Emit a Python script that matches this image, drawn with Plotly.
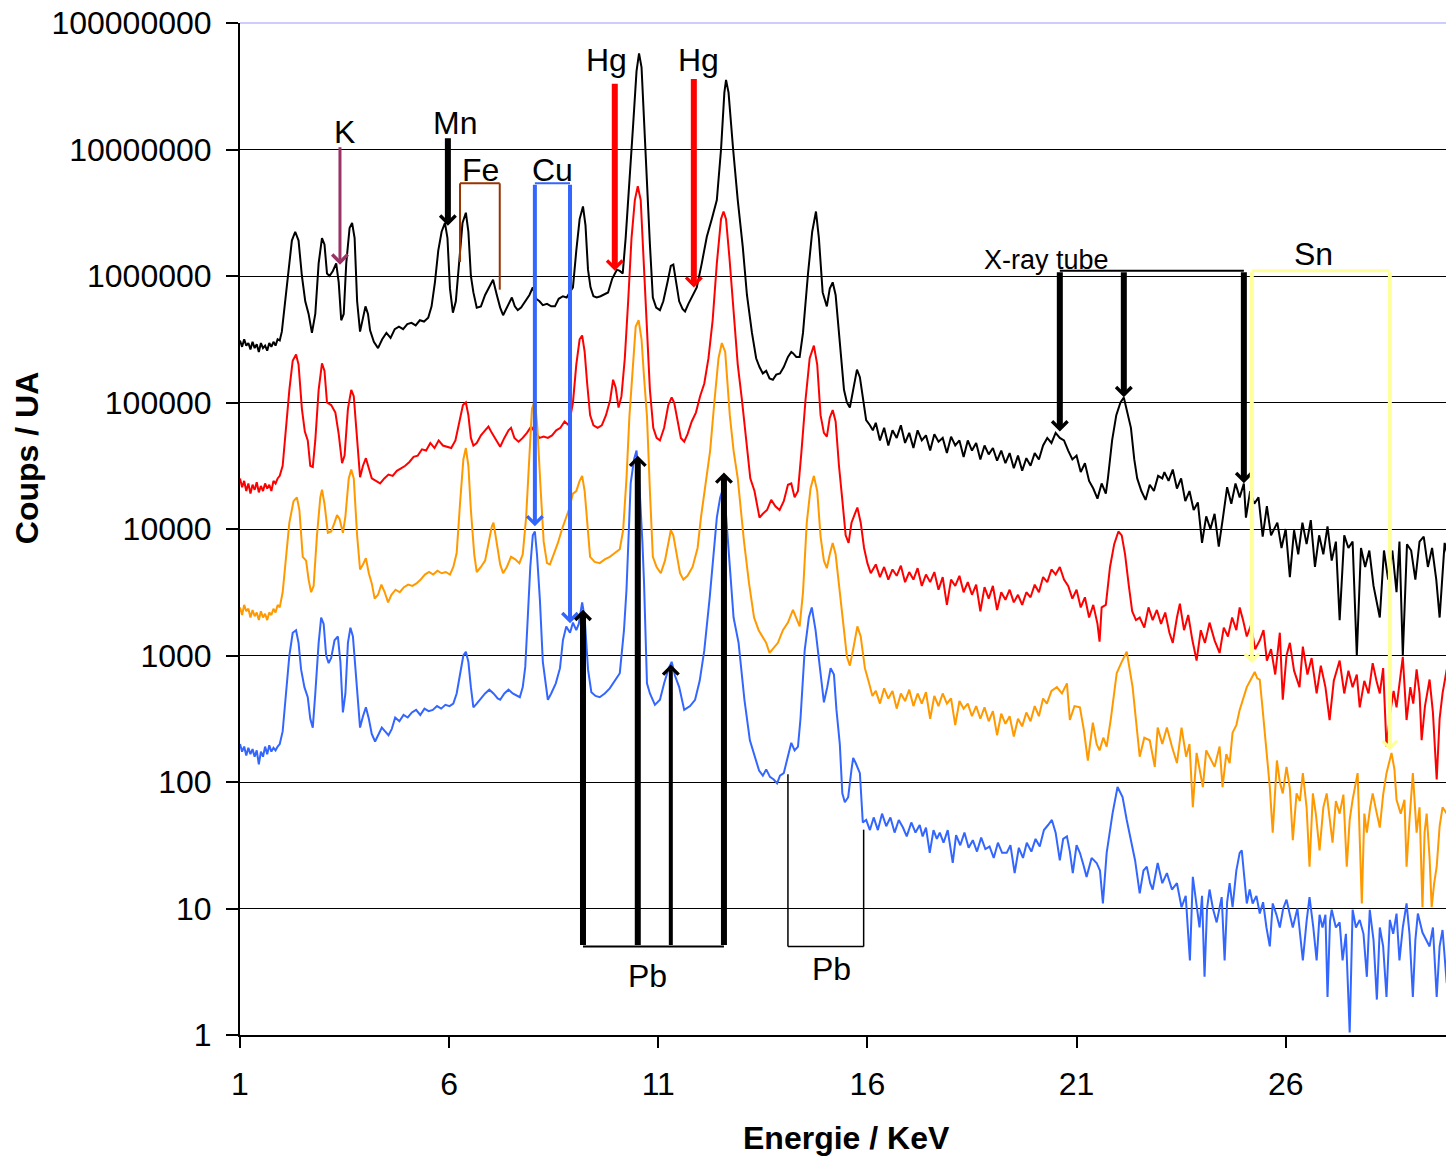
import numpy as np
import plotly.graph_objects as go

# spectres XRF : (energie keV, log10 des coups)
noir = [(1.00,5.49),(1.05,5.44),(1.10,5.50),(1.15,5.45),(1.20,5.47),(1.25,5.42),(1.30,5.48),(1.35,5.43),(1.40,5.46),(1.45,5.40),
        (1.50,5.47),(1.55,5.43),(1.60,5.45),(1.65,5.41),(1.70,5.47),(1.75,5.44),(1.80,5.48),(1.85,5.45),(1.90,5.50),(1.95,5.49),
        (2.00,5.56),(2.08,5.80),(2.16,6.05),(2.24,6.28),(2.32,6.35),(2.40,6.28),(2.48,6.00),(2.56,5.80),(2.64,5.70),(2.72,5.55),
        (2.80,5.70),(2.88,6.10),(2.96,6.30),(3.02,6.25),(3.08,6.02),(3.14,6.00),(3.22,6.04),(3.30,6.10),(3.36,5.95),(3.42,5.65),
        (3.48,5.70),(3.54,6.10),(3.62,6.38),(3.68,6.42),(3.74,6.30),(3.80,5.80),(3.87,5.56),(3.94,5.68),(4.00,5.76),(4.06,5.70),
        (4.11,5.57),(4.20,5.48),(4.30,5.43),(4.40,5.50),(4.50,5.55),(4.60,5.51),(4.70,5.58),(4.80,5.60),(4.90,5.58),(5.00,5.62),
        (5.10,5.63),(5.20,5.61),(5.30,5.65),(5.40,5.64),(5.50,5.67),(5.58,5.76),(5.66,5.95),(5.74,6.20),(5.82,6.35),(5.90,6.42),
        (5.96,6.30),(6.02,5.90),(6.09,5.71),(6.16,5.80),(6.24,6.10),(6.32,6.42),(6.40,6.50),(6.46,6.35),(6.52,6.00),(6.58,5.87),
        (6.66,5.75),(6.76,5.76),(6.86,5.85),(6.96,5.92),(7.05,5.97),(7.14,5.85),(7.22,5.75),(7.29,5.69),(7.38,5.75),(7.50,5.83),
        (7.57,5.76),(7.64,5.73),(7.72,5.75),(7.82,5.80),(7.92,5.85),(8.00,5.91),(8.08,5.82),(8.16,5.80),(8.24,5.77),(8.34,5.78),
        (8.44,5.76),(8.53,5.76),(8.62,5.82),(8.72,5.84),(8.81,5.83),(8.90,5.88),(8.96,5.91),(9.04,6.20),(9.12,6.45),(9.20,6.55),
        (9.26,6.40),(9.32,6.05),(9.38,5.91),(9.45,5.84),(9.53,5.83),(9.62,5.84),(9.72,5.86),(9.80,5.87),(9.90,5.98),(10.01,6.05),
        (10.08,6.04),(10.15,6.02),(10.22,6.30),(10.32,6.76),(10.40,7.20),(10.48,7.62),(10.54,7.76),(10.60,7.65),(10.66,7.20),(10.73,6.76),
        (10.80,6.25),(10.87,5.83),(10.95,5.75),(11.04,5.73),(11.12,5.80),(11.22,5.95),(11.30,6.08),(11.36,6.09),(11.42,5.98),(11.50,5.80),
        (11.58,5.74),(11.64,5.72),(11.72,5.78),(11.82,5.85),(11.92,5.91),(12.04,6.10),(12.16,6.31),(12.28,6.45),(12.40,6.60),(12.50,7.00),
        (12.58,7.45),(12.62,7.55),(12.68,7.45),(12.79,7.00),(12.90,6.60),(13.02,6.23),(13.12,5.85),(13.24,5.55),(13.34,5.35),(13.42,5.28),
        (13.50,5.23),(13.58,5.25),(13.66,5.19),(13.74,5.18),(13.82,5.22),(13.91,5.23),(14.00,5.28),(14.10,5.36),(14.18,5.40),(14.22,5.39),
        (14.30,5.36),(14.38,5.36),(14.46,5.55),(14.58,6.02),(14.68,6.35),(14.77,6.51),(14.84,6.30),(14.93,5.87),(15.03,5.76),(15.10,5.90),
        (15.17,5.95),(15.24,5.85),(15.34,5.49),(15.44,5.10),(15.51,5.00),(15.58,4.96),(15.66,5.10),(15.75,5.26),(15.82,5.20),(15.89,5.04),
        (15.97,4.86),(16.06,4.82),(16.13,4.78),
        (16.2,4.84),(16.3,4.70),(16.4,4.80),(16.5,4.66),(16.6,4.78),(16.7,4.72),(16.8,4.82),(16.9,4.68),(17.0,4.76),(17.1,4.64),
        (17.2,4.78),(17.3,4.70),(17.4,4.74),(17.5,4.62),(17.6,4.75),(17.7,4.69),(17.8,4.72),(17.9,4.60),(18.0,4.73),(18.1,4.66),
        (18.2,4.70),(18.3,4.57),(18.4,4.70),(18.5,4.62),(18.6,4.68),(18.7,4.55),(18.8,4.66),(18.9,4.59),(19.0,4.64),(19.1,4.54),
        (19.2,4.62),(19.3,4.52),(19.4,4.60),(19.5,4.48),(19.6,4.58),(19.7,4.46),(19.8,4.56),(19.9,4.50),(20.0,4.60),(20.1,4.55),
        (20.2,4.66),(20.3,4.72),(20.4,4.68),(20.5,4.76),(20.6,4.72),(20.7,4.70),(20.8,4.62),(20.9,4.55),(21.0,4.58),(21.1,4.45),
        (21.2,4.52),(21.3,4.38),(21.4,4.32),(21.5,4.24),(21.6,4.36),(21.7,4.28),(21.75,4.40),(21.85,4.70),(21.95,4.90),(22.05,5.00),
        (22.13,5.04),(22.2,4.95),(22.3,4.80),(22.38,4.55),(22.45,4.40),(22.55,4.30),(22.65,4.23),(22.75,4.35),(22.85,4.30),(22.95,4.42),
        (23.05,4.40),(23.1,4.45),(23.2,4.38),(23.3,4.47),(23.4,4.32),(23.5,4.40),(23.6,4.22),(23.7,4.30),(23.8,4.15),(23.9,4.21),
        (24.0,3.89),(24.1,4.10),(24.2,4.00),(24.3,4.12),(24.4,3.86),(24.5,4.09),(24.6,4.33),(24.7,4.20),(24.8,4.36),(24.9,4.25),
        (25.0,4.36),(25.05,4.09),(25.15,4.30),(25.25,4.20),(25.35,4.25),(25.45,3.94),(25.55,4.18),(25.65,3.95),(25.8,4.05),(25.9,3.85),
        (26.0,4.00),(26.1,3.62),(26.2,3.99),(26.3,3.80),(26.4,4.05),(26.5,3.88),(26.6,4.07),(26.7,3.70),(26.8,3.95),(26.9,3.80),
        (27.0,4.02),(27.1,3.75),(27.2,3.90),(27.29,3.28),(27.4,3.95),(27.5,3.85),(27.6,3.90),(27.7,3.00),(27.8,3.85),(27.9,3.70),
        (28.0,3.83),(28.1,3.55),(28.25,3.30),(28.35,3.83),(28.45,3.60),(28.55,3.83),(28.65,3.50),(28.72,3.90),(28.80,3.00),(28.9,3.88),
        (29.0,3.83),(29.1,3.60),(29.2,3.90),(29.3,3.94),(29.4,3.70),(29.5,3.85),(29.6,3.60),(29.68,3.30),(29.8,3.89),(29.9,3.75),(30.0,3.60)]

rouge = [(1.00,4.40),(1.05,4.33),(1.10,4.38),(1.15,4.30),(1.20,4.36),(1.25,4.28),(1.30,4.35),(1.35,4.31),(1.40,4.37),(1.45,4.29),
         (1.50,4.34),(1.55,4.30),(1.60,4.36),(1.65,4.32),(1.70,4.35),(1.75,4.30),(1.80,4.38),(1.85,4.36),(1.90,4.40),(1.95,4.42),
         (2.02,4.50),(2.10,4.80),(2.18,5.10),(2.26,5.33),(2.34,5.38),(2.40,5.30),(2.48,4.95),(2.55,4.77),(2.62,4.70),(2.68,4.50),
         (2.74,4.49),(2.80,4.70),(2.88,5.10),(2.96,5.31),(3.02,5.25),(3.08,5.00),(3.18,4.98),(3.28,4.92),(3.36,4.75),(3.44,4.52),
         (3.50,4.58),(3.58,4.95),(3.66,5.10),(3.72,5.05),(3.78,4.80),(3.87,4.41),(3.94,4.50),(4.01,4.56),(4.08,4.48),(4.15,4.40),
         (4.25,4.38),(4.35,4.36),(4.45,4.40),(4.55,4.43),(4.65,4.42),(4.75,4.46),(4.85,4.48),(4.95,4.50),(5.05,4.53),(5.15,4.57),
         (5.25,4.58),(5.35,4.63),(5.45,4.62),(5.55,4.68),(5.65,4.64),(5.75,4.70),(5.85,4.66),(5.95,4.65),(6.05,4.64),(6.15,4.70),
         (6.25,4.85),(6.33,4.98),(6.40,5.00),(6.46,4.90),(6.52,4.72),(6.58,4.66),(6.66,4.68),(6.76,4.74),(6.86,4.78),(6.94,4.81),
         (7.02,4.76),(7.12,4.70),(7.22,4.65),(7.32,4.72),(7.42,4.78),(7.48,4.80),(7.56,4.72),(7.66,4.69),(7.76,4.72),(7.86,4.76),
         (7.96,4.81),(8.06,4.76),(8.16,4.72),(8.26,4.73),(8.36,4.72),(8.46,4.74),(8.56,4.78),(8.66,4.80),(8.76,4.85),(8.86,4.82),
         (8.96,5.00),(9.04,5.30),(9.12,5.50),(9.18,5.53),(9.24,5.40),(9.30,5.15),(9.37,4.90),(9.45,4.82),(9.55,4.80),(9.65,4.82),
         (9.75,4.90),(9.85,5.02),(9.92,5.18),(9.98,5.12),(10.05,4.96),(10.12,5.05),(10.20,5.35),(10.28,5.80),(10.36,6.30),(10.44,6.60),
         (10.51,6.71),(10.58,6.60),(10.64,6.20),(10.72,5.60),(10.80,5.10),(10.88,4.80),(10.96,4.72),(11.04,4.70),(11.14,4.80),(11.24,4.98),
         (11.32,5.04),(11.38,5.00),(11.46,4.85),(11.54,4.72),(11.62,4.69),(11.70,4.75),(11.80,4.85),(11.90,4.92),(12.00,5.05),(12.10,5.15),
         (12.20,5.35),(12.30,5.65),(12.40,6.10),(12.50,6.45),(12.56,6.51),(12.62,6.45),(12.70,6.15),(12.80,5.70),(12.90,5.30),(13.00,5.02),
         (13.10,4.70),(13.20,4.40),(13.30,4.30),(13.42,4.09),(13.50,4.12),(13.60,4.15),(13.70,4.23),(13.80,4.18),(13.90,4.15),(14.00,4.22),
         (14.10,4.35),(14.18,4.36),(14.26,4.25),(14.34,4.30),(14.42,4.60),(14.52,5.02),(14.62,5.35),(14.72,5.45),(14.80,5.30),(14.88,4.90),
         (14.96,4.76),(15.03,4.73),(15.10,4.88),(15.17,4.94),(15.24,4.85),(15.32,4.50),(15.40,4.23),(15.48,3.95),(15.55,3.89),(15.62,4.05),
         (15.70,4.12),(15.76,4.17),(15.84,4.05),(15.92,3.85),(16.00,3.73),(16.08,3.65),
         (16.2,3.72),(16.3,3.62),(16.4,3.70),(16.5,3.60),(16.6,3.68),(16.7,3.63),(16.8,3.71),(16.9,3.58),(17.0,3.66),(17.1,3.60),
         (17.2,3.69),(17.3,3.55),(17.4,3.64),(17.5,3.58),(17.6,3.66),(17.7,3.52),(17.8,3.62),(17.9,3.40),(18.0,3.60),(18.1,3.55),
         (18.2,3.63),(18.3,3.50),(18.4,3.58),(18.5,3.48),(18.6,3.56),(18.7,3.35),(18.8,3.54),(18.9,3.45),(19.0,3.55),(19.1,3.36),
         (19.2,3.50),(19.3,3.44),(19.4,3.52),(19.5,3.42),(19.6,3.48),(19.7,3.40),(19.8,3.50),(19.9,3.46),(20.0,3.56),(20.1,3.50),
         (20.2,3.62),(20.3,3.58),(20.4,3.68),(20.5,3.64),(20.6,3.70),(20.7,3.60),(20.8,3.55),(20.9,3.45),(21.0,3.52),(21.1,3.38),
         (21.2,3.46),(21.3,3.30),(21.4,3.40),(21.5,3.25),(21.55,3.11),(21.6,3.38),(21.7,3.40),(21.8,3.70),(21.9,3.88),(22.0,3.98),
         (22.08,3.95),(22.16,3.80),(22.25,3.55),(22.33,3.35),(22.42,3.28),
         (22.51,3.30),(22.62,3.22),(22.72,3.38),(22.82,3.28),(22.92,3.36),(23.02,3.25),(23.12,3.34),(23.22,3.18),(23.30,3.10),(23.40,3.30),
         (23.47,3.41),(23.57,3.20),(23.67,3.32),(23.77,3.12),(23.87,2.96),(23.97,3.20),(24.07,3.10),(24.18,3.26),(24.30,3.12),(24.42,3.02),
         (24.52,3.22),(24.62,3.15),(24.72,3.30),(24.82,3.20),(24.90,3.38),(24.98,3.28),(25.07,3.15),(25.17,3.24),(25.27,3.05),(25.38,3.12),
         (25.47,3.20),(25.55,2.96),(25.65,3.05),(25.75,2.85),(25.86,3.18),(25.93,2.65),(26.02,3.00),(26.10,3.10),(26.20,2.88),(26.33,2.75),
         (26.41,3.07),(26.52,2.85),(26.62,2.98),(26.74,2.70),(26.84,2.92),(26.95,2.75),(27.05,2.49),(27.15,2.80),(27.29,2.96),(27.40,2.70),
         (27.50,2.88),(27.60,2.75),(27.70,2.85),(27.77,2.59),(27.88,2.80),(27.98,2.70),(28.08,2.94),(28.17,2.80),(28.25,2.70),(28.33,2.90),
         (28.41,2.28),(28.50,2.55),(28.58,2.72),(28.65,2.59),(28.73,2.80),(28.80,2.99),(28.89,2.49),(28.98,2.75),(29.05,2.62),(29.13,2.89),
         (29.20,2.70),(29.25,2.33),(29.33,2.60),(29.44,2.81),(29.52,2.55),(29.61,2.02),(29.68,2.50),(29.75,2.70),(29.85,2.89),(29.92,2.60),
         (30.00,2.31)]

orange = [(1.00,3.38),(1.05,3.32),(1.10,3.40),(1.15,3.35),(1.20,3.37),(1.25,3.30),(1.30,3.36),(1.35,3.31),(1.40,3.34),(1.45,3.28),
          (1.50,3.35),(1.55,3.30),(1.60,3.33),(1.65,3.28),(1.70,3.34),(1.75,3.32),(1.80,3.37),(1.85,3.34),(1.90,3.40),(1.95,3.38),
          (2.02,3.50),(2.10,3.80),(2.18,4.05),(2.28,4.22),(2.36,4.25),(2.42,4.15),(2.50,3.78),(2.58,3.75),(2.64,3.60),(2.70,3.50),
          (2.76,3.55),(2.84,3.95),(2.92,4.25),(2.96,4.31),(3.02,4.20),(3.10,3.97),(3.18,3.98),(3.26,4.05),(3.32,4.11),(3.38,4.08),
          (3.46,3.97),(3.52,4.10),(3.60,4.40),(3.66,4.47),(3.72,4.40),(3.80,3.95),(3.87,3.68),(3.94,3.72),(4.01,3.77),(4.08,3.65),
          (4.15,3.57),(4.22,3.45),(4.30,3.48),(4.38,3.56),(4.46,3.50),(4.54,3.42),(4.62,3.48),(4.72,3.52),(4.82,3.50),(4.92,3.54),
          (5.02,3.56),(5.12,3.55),(5.22,3.57),(5.32,3.60),(5.42,3.64),(5.52,3.66),(5.62,3.64),(5.72,3.67),(5.82,3.65),(5.92,3.66),
          (6.02,3.64),(6.10,3.70),(6.18,3.81),(6.26,4.20),(6.34,4.55),(6.40,4.64),(6.46,4.50),(6.52,4.15),(6.60,3.80),(6.66,3.66),
          (6.76,3.70),(6.86,3.75),(6.94,3.90),(7.02,4.02),(7.06,4.05),(7.14,3.90),(7.22,3.72),(7.29,3.65),(7.38,3.70),(7.48,3.78),
          (7.58,3.76),(7.68,3.73),(7.76,3.80),(7.84,4.09),(7.92,4.60),(7.98,4.95),(8.05,5.02),(8.11,4.80),(8.18,4.36),(8.26,3.90),
          (8.34,3.73),(8.41,3.72),(8.50,3.80),(8.60,3.89),(8.70,4.00),(8.77,4.07),(8.86,4.15),(8.96,4.28),(9.04,4.30),(9.12,4.38),
          (9.18,4.42),(9.24,4.30),(9.32,3.95),(9.37,3.78),(9.48,3.74),(9.60,3.73),(9.72,3.76),(9.84,3.78),(9.96,3.81),(10.08,3.84),
          (10.16,3.99),(10.24,4.40),(10.31,4.89),(10.40,5.35),(10.46,5.60),(10.53,5.65),(10.60,5.50),(10.66,5.20),(10.73,4.89),(10.80,4.30),
          (10.87,3.78),(10.96,3.70),(11.06,3.65),(11.16,3.75),(11.24,3.90),(11.30,3.99),(11.36,3.95),(11.44,3.80),(11.52,3.65),(11.60,3.60),
          (11.70,3.63),(11.82,3.70),(11.94,3.85),(12.02,4.09),(12.12,4.35),(12.24,4.62),(12.34,5.00),(12.44,5.35),(12.52,5.47),(12.60,5.40),
          (12.71,4.90),(12.80,4.62),(12.90,4.40),(12.95,4.23),(13.05,3.90),(13.17,3.57),(13.29,3.30),(13.40,3.20),(13.48,3.15),(13.58,3.10),
          (13.66,3.02),(13.74,3.05),(13.86,3.10),(13.98,3.20),(14.10,3.26),(14.22,3.36),(14.30,3.30),(14.38,3.23),(14.46,3.50),(14.55,4.05),
          (14.64,4.32),(14.72,4.42),(14.80,4.30),(14.88,3.94),(14.96,3.75),(15.03,3.69),(15.10,3.80),(15.17,3.89),(15.24,3.80),(15.34,3.52),
          (15.44,3.20),(15.51,2.99),(15.58,2.92),(15.66,3.05),(15.76,3.23),(15.84,3.15),(15.94,2.90),(16.04,2.78),(16.12,2.68),
          (16.2,2.72),(16.3,2.62),(16.4,2.74),(16.5,2.66),(16.6,2.72),(16.7,2.58),(16.8,2.70),(16.9,2.64),(17.0,2.73),(17.1,2.60),
          (17.2,2.70),(17.3,2.62),(17.4,2.71),(17.5,2.50),(17.6,2.68),(17.7,2.60),(17.8,2.70),(17.9,2.62),(18.0,2.66),(18.1,2.45),
          (18.2,2.64),(18.3,2.58),(18.4,2.62),(18.5,2.52),(18.6,2.60),(18.7,2.50),(18.8,2.59),(18.9,2.48),(19.0,2.56),(19.1,2.37),
          (19.2,2.54),(19.3,2.46),(19.4,2.52),(19.5,2.36),(19.6,2.50),(19.7,2.44),(19.8,2.55),(19.9,2.48),(20.0,2.60),(20.1,2.52),
          (20.2,2.66),(20.29,2.62),(20.4,2.72),(20.53,2.75),(20.65,2.70),(20.77,2.78),(20.84,2.49),(20.95,2.60),(21.08,2.59),(21.18,2.40),
          (21.27,2.17),(21.39,2.47),(21.48,2.30),(21.55,2.25),(21.64,2.35),(21.72,2.28),(21.82,2.50),(21.96,2.86),(22.08,2.95),(22.20,3.03),
          (22.34,2.75),(22.44,2.41),(22.51,2.20),(22.62,2.35),(22.75,2.33),(22.87,2.12),(22.94,2.43),
          (23.05,2.30),(23.16,2.43),(23.28,2.28),(23.40,2.15),(23.51,2.43),(23.62,2.20),(23.70,2.30),(23.78,1.80),(23.87,2.23),(23.95,2.10),
          (24.02,1.96),(24.10,2.25),(24.18,2.20),(24.30,2.12),(24.42,2.28),(24.49,1.96),(24.58,2.22),(24.66,2.15),(24.73,2.39),(24.82,2.45),
          (24.90,2.57),(24.98,2.66),(25.07,2.75),(25.15,2.80),(25.26,2.87),(25.32,2.82),(25.38,2.81),(25.45,2.57),(25.55,2.17),(25.62,1.96),
          (25.69,1.60),(25.79,2.17),(25.86,2.00),(25.93,1.91),(26.02,2.12),(26.10,1.95),(26.17,1.54),(26.26,1.91),(26.34,1.85),(26.41,2.07),
          (26.50,1.80),(26.57,1.33),(26.65,1.91),(26.72,1.75),(26.81,1.46),(26.90,1.80),(26.98,1.91),(27.05,1.70),(27.12,1.52),(27.20,1.85),
          (27.29,1.75),(27.38,1.90),(27.46,1.33),(27.53,1.70),(27.60,1.86),(27.72,2.07),(27.82,1.04),(27.88,1.75),(27.94,1.60),(28.02,1.80),
          (28.08,1.91),(28.16,1.78),(28.25,1.64),(28.33,1.90),(28.41,2.07),(28.53,2.23),(28.60,2.10),(28.65,1.86),(28.75,1.75),(28.84,1.86),
          (28.89,1.33),(28.96,1.70),(29.04,2.07),(29.13,1.60),(29.20,1.80),(29.27,1.01),(29.32,1.60),(29.37,1.75),(29.44,1.40),(29.49,1.01),
          (29.55,1.20),(29.61,1.33),(29.68,1.65),(29.75,1.80),(29.85,1.75),(29.92,1.70),(30.00,1.01)]

bleu = [(1.00,2.30),(1.05,2.24),(1.10,2.28),(1.15,2.21),(1.20,2.27),(1.25,2.22),(1.30,2.26),(1.35,2.20),(1.40,2.25),(1.45,2.14),
        (1.50,2.24),(1.55,2.20),(1.60,2.28),(1.65,2.22),(1.70,2.29),(1.75,2.24),(1.80,2.27),(1.85,2.25),(1.90,2.28),(1.95,2.30),
        (2.02,2.40),(2.10,2.70),(2.18,3.00),(2.26,3.18),(2.34,3.20),(2.40,3.10),(2.46,2.89),(2.54,2.75),(2.62,2.67),(2.68,2.50),
        (2.74,2.43),(2.80,2.70),(2.88,3.10),(2.94,3.30),(3.00,3.25),(3.06,3.00),(3.12,2.94),(3.18,2.98),(3.26,3.12),(3.34,3.15),
        (3.40,2.95),(3.46,2.55),(3.52,2.70),(3.58,3.10),(3.64,3.22),(3.70,3.15),(3.78,2.80),(3.87,2.43),(3.94,2.52),(4.01,2.59),
        (4.08,2.50),(4.15,2.38),(4.23,2.32),(4.31,2.38),(4.39,2.43),(4.47,2.40),(4.55,2.37),(4.63,2.42),(4.71,2.51),(4.81,2.48),
        (4.91,2.53),(5.01,2.51),(5.11,2.55),(5.21,2.57),(5.31,2.53),(5.41,2.58),(5.51,2.56),(5.61,2.57),(5.71,2.60),(5.81,2.58),
        (5.91,2.61),(6.01,2.60),(6.10,2.62),(6.18,2.70),(6.26,2.85),(6.34,3.00),(6.40,3.03),(6.46,2.95),(6.52,2.75),(6.58,2.59),
        (6.66,2.62),(6.76,2.66),(6.86,2.70),(6.96,2.73),(7.06,2.70),(7.16,2.66),(7.22,2.65),(7.32,2.70),(7.42,2.73),(7.52,2.70),
        (7.62,2.68),(7.69,2.67),(7.76,2.75),(7.82,2.91),(7.88,3.30),(7.94,3.70),(8.00,3.95),(8.05,3.98),(8.10,3.80),(8.17,3.44),
        (8.24,2.95),(8.30,2.81),(8.36,2.65),(8.44,2.70),(8.55,2.78),(8.65,2.90),(8.72,3.12),(8.80,3.23),(8.89,3.18),(8.96,3.26),
        (9.04,3.20),(9.10,3.25),(9.18,3.42),(9.24,3.30),(9.32,2.89),(9.40,2.71),(9.50,2.68),(9.60,2.67),(9.72,2.70),(9.84,2.74),
        (9.96,2.80),(10.08,2.86),(10.18,3.20),(10.24,3.52),(10.34,4.36),(10.42,4.55),(10.48,4.62),(10.54,4.40),(10.62,3.90),(10.66,3.57),
        (10.73,2.78),(10.80,2.70),(10.92,2.61),(11.04,2.65),(11.14,2.78),(11.25,2.90),(11.32,2.95),(11.40,2.84),(11.50,2.75),(11.62,2.57),
        (11.76,2.60),(11.88,2.65),(11.99,2.80),(12.10,3.04),(12.23,3.46),(12.33,3.80),(12.40,4.09),(12.48,4.25),(12.54,4.31),(12.60,4.20),
        (12.68,3.83),(12.80,3.30),(12.92,3.10),(13.06,2.65),(13.19,2.33),(13.30,2.20),(13.41,2.09),(13.50,2.05),(13.58,2.10),(13.67,2.04),
        (13.76,2.02),(13.84,1.99),(13.91,2.05),(14.00,2.07),(14.10,2.20),(14.18,2.31),(14.26,2.25),(14.34,2.28),(14.40,2.50),(14.50,3.04),
        (14.60,3.30),(14.67,3.38),(14.76,3.20),(14.86,2.91),(14.96,2.63),(15.04,2.75),(15.12,2.90),(15.20,2.85),(15.26,2.57),(15.34,2.30),
        (15.40,1.91),(15.46,1.84),(15.54,1.88),(15.62,2.10),(15.66,2.19),(15.72,2.15),(15.82,2.07),(15.89,1.68),(15.97,1.70),(16.06,1.62),
        (16.15,1.72),(16.25,1.62),(16.35,1.75),(16.45,1.65),(16.55,1.72),(16.65,1.60),(16.75,1.70),(16.85,1.64),(16.94,1.57),(17.05,1.68),
        (17.15,1.60),(17.25,1.66),(17.32,1.57),(17.40,1.64),(17.49,1.44),(17.58,1.62),(17.66,1.55),(17.73,1.60),(17.82,1.52),(17.92,1.62),
        (18.04,1.36),(18.12,1.58),(18.22,1.50),(18.32,1.60),(18.42,1.48),(18.52,1.54),(18.62,1.45),(18.72,1.56),(18.82,1.47),(18.92,1.49),
        (19.02,1.40),(19.12,1.52),(19.22,1.44),(19.33,1.44),(19.42,1.50),(19.52,1.28),(19.62,1.48),(19.72,1.40),(19.81,1.52),(19.92,1.45),
        (20.02,1.55),(20.12,1.49),(20.22,1.62),(20.32,1.66),(20.41,1.70),(20.50,1.60),(20.60,1.38),(20.68,1.55),(20.77,1.57),(20.84,1.45),
        (20.91,1.28),(21.00,1.50),(21.08,1.44),(21.16,1.35),(21.24,1.25),(21.36,1.40),(21.48,1.36),(21.56,1.30),(21.63,1.04),(21.72,1.44),
        (21.86,1.75),(21.98,1.96),(22.10,1.88),(22.20,1.70),(22.32,1.52),(22.40,1.38),(22.51,1.12),(22.60,1.30),(22.68,1.33),(22.76,1.20),
        (22.82,1.15),(22.94,1.36),
        (23.05,1.20),(23.16,1.28),(23.28,1.15),(23.40,1.20),(23.51,1.01),(23.61,1.10),(23.71,0.59),(23.78,1.25),(23.86,1.05),(23.94,0.85),
        (24.00,1.10),(24.06,0.46),(24.12,1.00),(24.18,1.15),(24.26,1.00),(24.35,0.89),(24.47,1.09),(24.54,0.59),(24.60,1.05),(24.66,1.20),
        (24.73,1.01),(24.82,1.30),(24.90,1.44),(24.95,1.46),(25.01,1.25),(25.07,1.04),(25.14,1.15),(25.21,1.04),(25.30,1.10),(25.38,0.96),
        (25.46,1.05),(25.54,0.85),(25.62,0.70),(25.69,1.04),(25.78,0.95),(25.86,0.85),(25.94,1.00),(26.02,1.07),(26.10,0.95),(26.17,0.85),
        (26.28,1.00),(26.41,0.59),(26.50,0.90),(26.57,1.09),(26.66,0.85),(26.74,0.59),(26.81,0.95),(26.88,0.85),(26.95,0.95),(27.00,0.30),
        (27.06,0.90),(27.10,0.99),(27.20,0.85),(27.29,0.89),(27.36,0.59),(27.44,0.80),(27.53,0.02),(27.60,0.99),(27.68,0.85),(27.77,0.91),
        (27.86,0.80),(27.94,0.46),(28.01,0.99),(28.10,0.75),(28.18,0.28),(28.25,0.85),(28.33,0.70),(28.41,0.30),(28.49,0.91),(28.57,0.80),
        (28.65,0.96),(28.72,0.59),(28.80,0.85),(28.89,1.04),(28.96,0.80),(29.04,0.30),(29.10,0.75),(29.16,0.96),(29.27,0.81),(29.36,0.75),
        (29.44,0.70),(29.52,0.85),(29.61,0.30),(29.68,0.70),(29.75,0.83),(29.85,0.41),(29.92,0.75),(30.00,0.70)]

y_ticks = [1, 10, 100, 1000, 10000, 100000, 1000000, 10000000, 100000000]
x_ticks = [1, 6, 11, 16, 21, 26]

police = "Arial, Liberation Sans, sans-serif"

fig = go.Figure()
for serie, couleur in [(noir, "#000000"), (rouge, "#FF0000"), (orange, "#FF9900"), (bleu, "#3366FF")]:
    e = [p[0] for p in serie]
    c = 10 ** np.array([p[1] for p in serie])
    fig.add_trace(go.Scatter(x=e, y=c, mode="lines", line=dict(color=couleur, width=2),
                             showlegend=False, hoverinfo="skip"))

L = np.log10

def fleche(x, y_pointe, y_queue, couleur, largeur, taille):
    fig.add_annotation(x=x, y=L(y_pointe), ax=x, ay=L(y_queue), xref="x", yref="y",
                       axref="x", ayref="y", text="", showarrow=True, arrowhead=4,
                       arrowsize=taille, arrowwidth=largeur, arrowcolor=couleur, standoff=0)

def trait(x0, y0, x1, y1, couleur, largeur):
    fig.add_shape(type="line", x0=x0, y0=y0, x1=x1, y1=y1, xref="x", yref="y",
                  line=dict(color=couleur, width=largeur))

def texte(x, y, t, taille=32):
    fig.add_annotation(x=x, y=L(y), text=t, showarrow=False, xref="x", yref="y",
                       font=dict(family=police, size=taille, color="black"))

# K, Mn, Hg
fleche(3.39, 1.23e6, 1.07e7, "#993366", 3, 1.0)
fleche(5.97, 2.5e6, 1.26e7, "black", 6, 0.5)
fleche(9.96, 1.1e6, 3.4e7, "#FF0000", 6, 0.5)
fleche(11.85, 8.1e5, 3.7e7, "#FF0000", 6, 0.5)

# Fe
trait(6.26, 1.29e6, 6.26, 5.4e6, "#993300", 2)
trait(6.26, 5.4e6, 7.21, 5.4e6, "#993300", 2)
trait(7.21, 5.4e6, 7.21, 7.8e5, "#993300", 2)

# Cu
trait(8.05, 5.4e6, 8.89, 5.4e6, "#3366FF", 2)
fleche(8.05, 1.05e4, 5.4e6, "#3366FF", 4, 0.75)
fleche(8.89, 1.8e3, 5.4e6, "#3366FF", 4, 0.75)

# tube X
trait(20.60, 1.1e6, 25.00, 1.1e6, "black", 2)
fleche(20.60, 5.9e4, 1.1e6, "black", 6, 0.5)
fleche(22.13, 1.1e5, 1.1e6, "black", 6, 0.5)
fleche(25.00, 2.3e4, 1.1e6, "black", 6, 0.5)

# Sn
trait(25.19, 1.1e6, 28.49, 1.1e6, "#FFFF99", 3)
fleche(25.19, 870, 1.1e6, "#FFFF99", 4, 0.7)
fleche(28.49, 178, 1.1e6, "#FFFF99", 4, 0.7)

# Pb (L)
trait(9.20, 5, 12.57, 5, "black", 2)
fleche(9.20, 2.3e3, 5, "black", 6, 0.5)
fleche(10.51, 3.8e4, 5, "black", 6, 0.5)
fleche(11.30, 850, 5, "black", 4, 0.75)
fleche(12.57, 2.8e4, 5, "black", 6, 0.5)

# Pb (K)
trait(14.10, 115, 14.10, 5, "black", 1.5)
trait(14.10, 5, 15.91, 5, "black", 1.5)
trait(15.91, 42, 15.91, 5, "black", 1.5)

texte(3.51, 1.38e7, "K")
texte(6.14, 1.62e7, "Mn")
texte(6.76, 6.9e6, "Fe")
texte(8.48, 6.9e6, "Cu")
texte(9.77, 5.1e7, "Hg")
texte(11.97, 5.1e7, "Hg")
texte(20.29, 1.35e6, "X-ray tube", 27)
texte(26.67, 1.5e6, "Sn")
texte(10.75, 2.95, "Pb")
texte(15.15, 3.3, "Pb")

# bord du cadre
fig.add_shape(type="line", xref="paper", yref="paper", x0=0, x1=1, y0=1, y1=1,
              line=dict(color="#CCCCFF", width=2))
fig.add_shape(type="line", xref="paper", yref="paper", x0=1, x1=1, y0=0, y1=1,
              line=dict(color="#CCCCFF", width=2))

fig.add_annotation(text="<b>Energie / KeV</b>", xref="paper", yref="paper", x=0.5, y=-0.102,
                   xanchor="center", yanchor="middle", showarrow=False,
                   font=dict(family=police, size=32, color="black"))
fig.add_annotation(text="<b>Coups / UA</b>", xref="paper", yref="paper", x=-0.1756, y=0.570,
                   xanchor="center", yanchor="middle", textangle=-90, showarrow=False,
                   font=dict(family=police, size=32, color="black"))

# la page ajoute 8 px de marge : la figure est réduite d'autant
fig.update_layout(
    width=1446, height=1152,
    margin=dict(l=232, r=1, t=15, b=125),
    paper_bgcolor="white", plot_bgcolor="white",
    font=dict(family=police, size=32, color="black"),
    xaxis=dict(range=[1, 30], tickvals=x_ticks, showgrid=False, zeroline=False,
               showline=True, linecolor="black", linewidth=2, automargin=False,
               ticks="outside", ticklen=11, tickwidth=2, tickcolor="black",
               ticklabelstandoff=9, tickfont=dict(size=32)),
    yaxis=dict(type="log", range=[0, 8], tickvals=y_ticks, ticktext=[str(v) for v in y_ticks],
               showgrid=True, gridcolor="black", gridwidth=1, zeroline=False,
               showline=True, linecolor="black", linewidth=2, automargin=False,
               ticks="outside", ticklen=12, tickwidth=2, tickcolor="black",
               ticklabelstandoff=8, ticklabeloverflow="allow", tickfont=dict(size=32)),
)

fig.write_html("out.html")
